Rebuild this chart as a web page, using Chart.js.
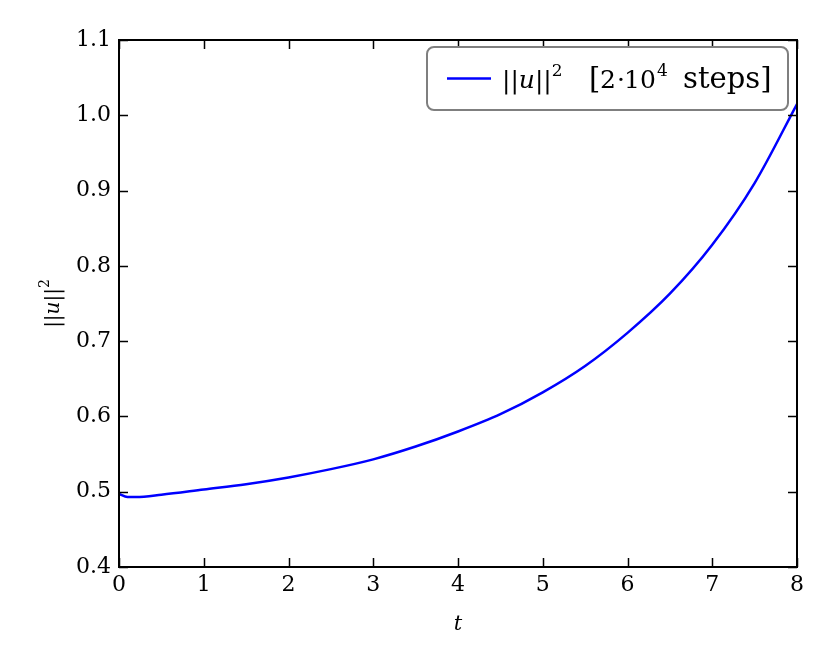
<!DOCTYPE html>
<html>
<head>
<meta charset="utf-8">
<script src="https://cdn.jsdelivr.net/npm/chart.js@4.4.1/dist/chart.umd.min.js"></script>
<style>
html,body{margin:0;padding:0;background:#fff;}
#wrap{width:830px;height:664px;position:relative;}
</style>
</head>
<body>
<div id="wrap"><canvas id="c" width="830" height="664"></canvas></div>
<script>
// ---- data ----
const tValues = [0, 0.1, 0.2, 0.5, 1, 1.5, 2, 2.5, 3, 3.5, 4, 4.5, 5, 5.5, 6, 6.5, 7, 7.5, 8];
const normValues = [0.497, 0.493, 0.493, 0.496, 0.503, 0.510, 0.519, 0.530, 0.543, 0.560, 0.580, 0.603, 0.632, 0.667, 0.711, 0.763, 0.828, 0.910, 1.015];
const xTicks = [0, 1, 2, 3, 4, 5, 6, 7, 8];
const yTicks = [0.4, 0.5, 0.6, 0.7, 0.8, 0.9, 1.0, 1.1];
const seriesLabel = ["||", "u", "||", "2", "[", "2", "\u00b7", "10", "4", "steps]"];

const SERIF = '"DejaVu Serif", serif';

const points = tValues.map((t, i) => ({x: t, y: normValues[i]}));

const framePlugin = {
  id: 'framePlugin',
  afterDraw(chart) {
    const ctx = chart.ctx;
    const a = chart.chartArea;
    const xs = chart.scales.x, ys = chart.scales.y;
    ctx.save();
    ctx.strokeStyle = '#000';
    ctx.lineWidth = 1.5;
    const tl = 9;
    ctx.beginPath();
    xTicks.forEach(v => {
      const px = Math.round(xs.getPixelForValue(v)) + 0.5;
      ctx.moveTo(px, a.bottom); ctx.lineTo(px, a.bottom - tl);
      ctx.moveTo(px, a.top); ctx.lineTo(px, a.top + tl);
    });
    yTicks.forEach(v => {
      const py = Math.round(ys.getPixelForValue(v)) + 0.5;
      ctx.moveTo(a.left, py); ctx.lineTo(a.left + tl, py);
      ctx.moveTo(a.right, py); ctx.lineTo(a.right - tl, py);
    });
    ctx.stroke();
    ctx.lineWidth = 2;
    ctx.strokeRect(a.left, a.top, a.right - a.left, a.bottom - a.top);

    // x label
    ctx.fillStyle = '#000';
    ctx.font = 'italic 21px ' + SERIF;
    ctx.textAlign = 'center';
    ctx.textBaseline = 'alphabetic';
    ctx.fillText('t', (a.left + a.right) / 2, 630);

    // y label (rotated)
    ctx.save();
    ctx.translate(52, (a.top + a.bottom) / 2);
    ctx.rotate(-Math.PI / 2);
    drawSeq(ctx, [
      {t: '||', f: '20px ' + SERIF, dy: 0},
      {t: 'u', f: 'italic 20px ' + SERIF, dy: 0},
      {t: '||', f: '20px ' + SERIF, dy: 0},
      {t: '2', f: '14px ' + SERIF, dy: -10}
    ], true, 7);
    ctx.restore();

    // legend
    const lx = 427, ly = 47, lw = 361, lh = 63;
    ctx.beginPath();
    ctx.roundRect(lx, ly, lw, lh, 7);
    ctx.fillStyle = '#fff';
    ctx.fill();
    ctx.strokeStyle = '#7f7f7f';
    ctx.lineWidth = 2;
    ctx.stroke();
    const ds = chart.data.datasets[0];
    ctx.strokeStyle = ds.borderColor;
    ctx.lineWidth = 2.5;
    ctx.beginPath();
    ctx.moveTo(447, 78.5); ctx.lineTo(491, 78.5);
    ctx.stroke();

    ctx.fillStyle = '#000';
    ctx.textAlign = 'left';
    ctx.textBaseline = 'alphabetic';
    const base = 88;
    const M = '25px ' + SERIF, MI = 'italic 25px ' + SERIF, S = '17px ' + SERIF, T = '29px ' + SERIF;
    ctx.save(); ctx.translate(502, base);
    drawSeq(ctx, [
      {t: seriesLabel[0], f: M, dy: 0},
      {t: seriesLabel[1], f: MI, dy: 0},
      {t: seriesLabel[2], f: M, dy: 0},
      {t: seriesLabel[3], f: S, dy: -12}
    ], false, 0);
    ctx.restore();
    const put = (txt, f, x, dy) => { ctx.font = f; ctx.fillText(txt, x, base + dy); };
    put(seriesLabel[4], T, 589, 0);
    put(seriesLabel[5], M, 600, 0);
    put(seriesLabel[6], M, 617, 0);
    put(seriesLabel[7], M, 624, 0);
    put(seriesLabel[8], S, 657, -12);
    put(seriesLabel[9], T, 683, 0);
    ctx.restore();
  }
};

function drawSeq(ctx, parts, center, base) {
  ctx.textAlign = 'left';
  ctx.textBaseline = 'alphabetic';
  ctx.fillStyle = '#000';
  let total = 0;
  parts.forEach(p => { ctx.font = p.f; p.w = ctx.measureText(p.t).width; total += p.w; });
  let x = center ? -total / 2 : 0;
  parts.forEach(p => {
    ctx.font = p.f;
    ctx.fillText(p.t, x, base + p.dy);
    x += p.w;
  });
}

new Chart(document.getElementById('c'), {
  type: 'line',
  data: {
    datasets: [{
      label: '||u||^2 [2·10^4 steps]',
      data: points,
      borderColor: '#0000ff',
      borderWidth: 2.5,
      pointRadius: 0,
      fill: false,
      cubicInterpolationMode: 'monotone'
    }]
  },
  options: {
    responsive: false,
    animation: false,
    devicePixelRatio: 1,
    layout: {padding: {top: 40, right: 33, left: 0, bottom: 0}},
    plugins: {legend: {display: false}, tooltip: {enabled: false}},
    scales: {
      x: {
        type: 'linear', min: 0, max: 8,
        afterFit(s) { s.height = 97; },
        afterBuildTicks(s) { s.ticks = xTicks.map(v => ({value: v})); },
        grid: {display: false, drawTicks: false},
        border: {display: false},
        ticks: {color: '#000', font: {family: 'DejaVu Serif', size: 22}, padding: 5, maxRotation: 0,
          callback: v => String(v)}
      },
      y: {
        type: 'linear', min: 0.4, max: 1.1,
        afterFit(s) { s.width = 119; },
        afterBuildTicks(s) { s.ticks = yTicks.map(v => ({value: v})); },
        grid: {display: false, drawTicks: false},
        border: {display: false},
        ticks: {color: '#000', font: {family: 'DejaVu Serif', size: 22}, padding: 8,
          callback: v => Number(v).toFixed(1)}
      }
    }
  },
  plugins: [framePlugin]
});
</script>
</body>
</html>
